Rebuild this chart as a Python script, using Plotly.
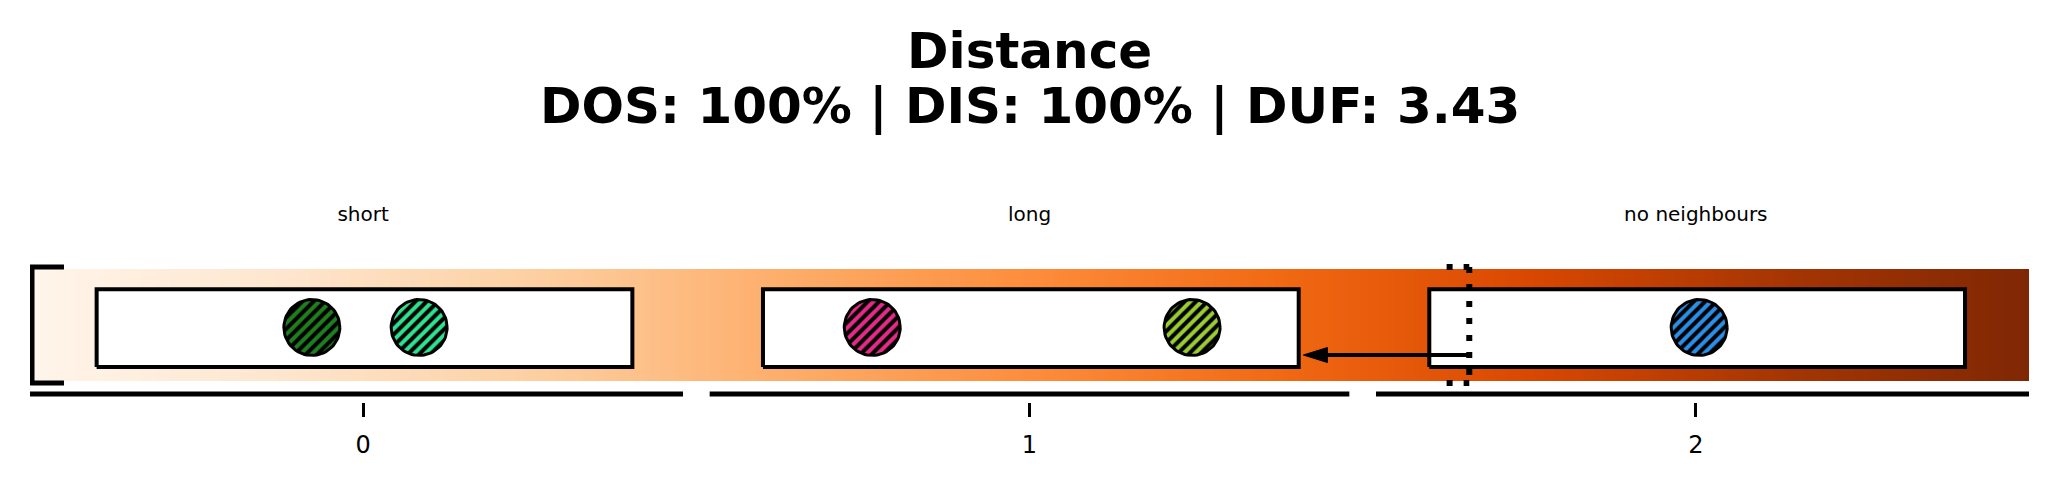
import numpy as np
import plotly.graph_objects as go

# ---------------- data ----------------
categories = [0, 1, 2]
category_labels = ["short", "long", "no neighbours"]
tick_labels = ["0", "1", "2"]

point_x = [-0.077, 0.084, 0.764, 1.244, 2.005]
point_y = [-0.022, -0.022, -0.022, -0.022, -0.022]
point_colors = ["#1f7f1f", "#2de38f", "#e62a87", "#9acd32", "#2b8fe8"]

threshold_x = 1.66          # dotted marker
arrow_target_x = 1.411      # arrow tip (right edge of category 1 box)
arrow_y = -0.268

title_line1 = "Distance"
title_line2 = "DOS: 100% | DIS: 100% | DUF: 3.43"

# ---------------- geometry / style ----------------
OFF = 8                      # page body margin of the html page
W, H = 2060 - 2 * OFF, 488 - 2 * OFF
ML, MR, MT, MB = 30 - OFF, 2060 - 2029 - OFF, 0, 488 - 402 - OFF
XR = [-0.5, 2.5]
YR = [-0.6875, (325 - OFF) / 112]
px_x = (W - ML - MR) / (XR[1] - XR[0])
px_y = (H - MT - MB) / (YR[1] - YR[0])
PH = H - MT - MB

FONT = "DejaVu Sans"
fig = go.Figure()

# gradient background strip (Oranges colormap along x)
N = 400
dx = (XR[1] - XR[0]) / N
centers = XR[0] + dx / 2 + dx * np.arange(N)
fig.add_trace(go.Heatmap(
    z=[centers], x0=XR[0] + dx / 2, dx=dx, y0=0, dy=1,
    colorscale="Oranges", zmin=XR[0], zmax=XR[1], showscale=False,
    hoverinfo="skip", zsmooth=False,
))

# white category boxes
for c in categories:
    fig.add_trace(go.Scatter(
        x=[c - 0.4, c + 0.404, c + 0.404, c - 0.4, c - 0.4],
        y=[-0.375, -0.375, 0.32, 0.32, -0.375],
        mode="lines", fill="toself", fillcolor="white",
        line=dict(color="black", width=4),
        hoverinfo="skip", showlegend=False,
    ))

shapes = []
# segmented baseline
seg_gap = 0.02
for c in categories:
    x0 = c - 0.5 + seg_gap if c > categories[0] else XR[0]
    x1 = c + 0.5 - seg_gap if c < categories[-1] else XR[1]
    shapes.append(dict(type="line", xref="x", yref="y",
                       x0=x0, x1=x1, y0=-0.616, y1=-0.616,
                       line=dict(color="black", width=5), layer="above"))
# left solid bracket
shapes.append(dict(type="path", xref="x", yref="y",
                   path="M -0.449,0.518 L -0.497,0.518 L -0.497,-0.518 L -0.449,-0.518",
                   line=dict(color="black", width=5), layer="above"))
# dotted threshold bracket
bx = 0.034
dot = dict(color="black", width=6, dash="6px,11px")
shapes.append(dict(type="line", xref="x", yref="y", x0=threshold_x - bx, x1=threshold_x,
                   y0=0.518, y1=0.518, line=dot, layer="above"))
shapes.append(dict(type="line", xref="x", yref="y", x0=threshold_x - bx, x1=threshold_x,
                   y0=-0.518, y1=-0.518, line=dot, layer="above"))
shapes.append(dict(type="line", xref="x", yref="y", x0=threshold_x, x1=threshold_x,
                   y0=0.518, y1=-0.518, line=dot, layer="above"))
fig.update_layout(shapes=shapes)

# circles (hatched) drawn as filled outlines around data centres
r_px = 28
theta = np.linspace(0, 2 * np.pi, 73)
for x, y, col in zip(point_x, point_y, point_colors):
    fig.add_trace(go.Scatter(
        x=x + (r_px / px_x) * np.cos(theta),
        y=y + (r_px / px_y) * np.sin(theta),
        mode="lines", fill="toself", fillcolor=col,
        fillpattern=dict(shape="/", bgcolor=col, fgcolor="black",
                         size=8, solidity=0.5, fillmode="replace"),
        line=dict(color="black", width=3),
        hoverinfo="skip", showlegend=False,
    ))

# arrow: shaft + head
head_len, head_half = 24 / px_x, 7.5 / px_y
fig.add_trace(go.Scatter(
    x=[threshold_x, arrow_target_x + head_len * 0.8], y=[arrow_y, arrow_y],
    mode="lines", line=dict(color="black", width=4),
    hoverinfo="skip", showlegend=False,
))
fig.add_trace(go.Scatter(
    x=[arrow_target_x, arrow_target_x + head_len, arrow_target_x + head_len, arrow_target_x],
    y=[arrow_y, arrow_y + head_half, arrow_y - head_half, arrow_y],
    mode="lines", fill="toself", fillcolor="black",
    line=dict(color="black", width=1),
    hoverinfo="skip", showlegend=False,
))

# category labels
fig.add_trace(go.Scatter(
    x=categories, y=[0.973] * len(categories), text=category_labels,
    mode="text", textposition="middle center",
    textfont=dict(family=FONT, size=20, color="black"),
    hoverinfo="skip", showlegend=False,
))

# title
fig.add_annotation(x=0.5, y=(PH - (51 - OFF)) / PH, xref="paper", yref="paper",
                   text="<b>" + title_line1 + "</b>", showarrow=False,
                   xanchor="center", yanchor="middle",
                   font=dict(family=FONT, size=50, color="black"))
fig.add_annotation(x=0.5, y=(PH - (106 - OFF)) / PH, xref="paper", yref="paper",
                   text="<b>" + title_line2 + "</b>", showarrow=False,
                   xanchor="center", yanchor="middle",
                   font=dict(family=FONT, size=50, color="black"))

fig.update_layout(
    width=W, height=H,
    margin=dict(l=ML, r=MR, t=MT, b=MB, pad=0),
    paper_bgcolor="white", plot_bgcolor="white",
    showlegend=False,
    xaxis=dict(range=XR, tickvals=categories, ticktext=tick_labels,
               ticks="outside", ticklen=14, tickwidth=3, tickcolor="black",
               ticklabelstandoff=7,
               tickfont=dict(family=FONT, size=24, color="black"),
               showgrid=False, zeroline=False, showline=False, fixedrange=True),
    yaxis=dict(range=YR, visible=False, showgrid=False, zeroline=False,
               fixedrange=True),
)

fig.write_html("out.html")
